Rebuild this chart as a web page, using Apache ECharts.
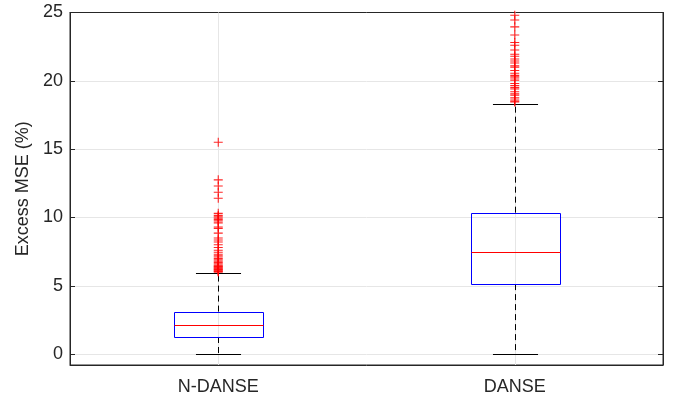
<!DOCTYPE html>
<html>
<head>
<meta charset="utf-8">
<script src="https://cdn.jsdelivr.net/npm/echarts@6/dist/echarts.min.js"></script>
<style>
  html, body { margin: 0; padding: 0; background: #fff; }
  #chart { width: 681px; height: 396px; }
</style>
</head>
<body>
<div id="chart"></div>
<script>
// categories on the x axis
const categories = ['N-DANSE', 'DANSE'];
// [lower whisker, Q1, median, Q3, upper whisker]
const boxStats = [
  [0, 1.25, 2.12, 3.11, 5.95],
  [0, 5.12, 7.46, 10.35, 18.3]
];
// outliers
const outliersNDanse = [15.5, 12.75, 12.3, 11.85, 11.4, 10.3, 10.15, 10.05, 9.95, 9.85, 9.75,
  9.6, 9.3, 9.2, 8.85, 8.5, 8.35, 8.2, 8.0, 7.8, 7.6, 7.45, 7.3, 7.2, 7.1, 7.0, 6.9, 6.8,
  6.7, 6.6, 6.5, 6.45, 6.4, 6.35, 6.3, 6.25, 6.2, 6.15, 6.1, 6.05, 6.0];
const outliersDanse = [24.8, 24.45, 23.95, 23.35, 22.8, 22.6, 22.25, 21.95, 21.8, 21.6, 21.45,
  21.3, 21.1, 21.0, 20.75, 20.55, 20.4, 20.3, 20.2, 20.05, 19.8, 19.65, 19.5, 19.4, 19.2,
  19.05, 18.95, 18.75, 18.6, 18.5, 18.45];
const yMin = -0.8;
const yMax = 25;

const axisColor = '#262626';
const gridColor = '#e6e6e6';
const font = '"Liberation Sans", Arial, sans-serif';

const chart = echarts.init(document.getElementById('chart'));

const boxData = boxStats.map((s, i) => [i].concat(s));
const outlierData = [];
outliersNDanse.forEach(v => outlierData.push([0, v]));
outliersDanse.forEach(v => outlierData.push([1, v]));

const px = v => Math.round(v) + 0.5;

function renderBox(params, api) {
  const idx = api.value(0);
  const lo = api.coord([idx, api.value(1)]);
  const q1 = api.coord([idx, api.value(2)]);
  const med = api.coord([idx, api.value(3)]);
  const q3 = api.coord([idx, api.value(4)]);
  const hi = api.coord([idx, api.value(5)]);
  const band = api.size([1, 0])[0];
  const bw = band * 0.15;   // half box width
  const cw = band * 0.076;  // half cap width
  const x = px(lo[0]);
  const cs = params.coordSys;
  const dashed = { stroke: '#000', lineWidth: 1, lineDash: [6, 4] };
  const bx = px(x - bw);
  const bwPx = Math.round(2 * bw);
  return {
    type: 'group',
    children: [
      // vertical grid line
      { type: 'line', silent: true,
        shape: { x1: x, y1: cs.y, x2: x, y2: cs.y + cs.height },
        style: { stroke: gridColor, lineWidth: 1 } },
      // whiskers
      { type: 'line', shape: { x1: x, y1: q3[1], x2: x, y2: hi[1] }, style: dashed },
      { type: 'line', shape: { x1: x, y1: q1[1], x2: x, y2: lo[1] }, style: dashed },
      // caps
      { type: 'line', shape: { x1: x - cw, y1: px(hi[1]), x2: x + cw, y2: px(hi[1]) },
        style: { stroke: '#000', lineWidth: 1 } },
      { type: 'line', shape: { x1: x - cw, y1: px(lo[1]), x2: x + cw, y2: px(lo[1]) },
        style: { stroke: '#000', lineWidth: 1 } },
      // box
      { type: 'rect',
        shape: { x: bx, y: px(q3[1]), width: bwPx, height: Math.round(q1[1] - q3[1]) },
        style: { fill: 'none', stroke: '#0000ff', lineWidth: 1 } },
      // median
      { type: 'line', shape: { x1: bx, y1: px(med[1]), x2: bx + bwPx, y2: px(med[1]) },
        style: { stroke: '#ff0000', lineWidth: 1 } }
    ]
  };
}

const option = {
  animation: false,
  backgroundColor: '#fff',
  grid: { left: 70, right: 18, top: 12.5, bottom: 31, show: true, borderColor: axisColor, borderWidth: 1 },
  xAxis: [
    {
      type: 'category',
      data: categories,
      position: 'bottom',
      axisLine: { show: true, onZero: false, lineStyle: { color: axisColor, width: 1 } },
      axisTick: { show: true, inside: true, alignWithLabel: true, length: 5, lineStyle: { color: axisColor } },
      axisLabel: { color: axisColor, fontSize: 18, fontFamily: font, margin: 13 },
      splitLine: { show: false }
    },
    {
      type: 'category',
      data: categories,
      position: 'top',
      axisLine: { show: true, onZero: false, lineStyle: { color: axisColor, width: 1 } },
      axisTick: { show: true, inside: true, alignWithLabel: true, length: 5, lineStyle: { color: axisColor } },
      axisLabel: { show: false },
      splitLine: { show: false }
    }
  ],
  yAxis: [
    {
      type: 'value',
      min: yMin,
      max: yMax,
      splitNumber: 5,
      name: 'Excess MSE (%)',
      nameLocation: 'middle',
      nameGap: 37,
      nameTextStyle: { color: axisColor, fontSize: 18, fontFamily: font },
      axisLine: { show: true, lineStyle: { color: axisColor, width: 1 } },
      axisTick: { show: true, inside: true, length: 5, lineStyle: { color: axisColor } },
      axisLabel: { color: axisColor, fontSize: 18, fontFamily: font, margin: 7, showMinLabel: false },
      splitLine: { show: true, lineStyle: { color: gridColor, width: 1 } }
    },
    {
      type: 'value',
      min: yMin,
      max: yMax,
      splitNumber: 5,
      position: 'right',
      axisLine: { show: true, lineStyle: { color: axisColor, width: 1 } },
      axisTick: { show: true, inside: true, length: 5, lineStyle: { color: axisColor } },
      axisLabel: { show: false },
      splitLine: { show: false }
    }
  ],
  series: [
    {
      type: 'custom',
      renderItem: renderBox,
      data: boxData,
      encode: { x: 0, y: [1, 2, 3, 4, 5] },
      z: 2
    },
    {
      type: 'scatter',
      data: outlierData,
      symbol: 'path://M4.4,0 H5.6 V4.4 H10 V5.6 H5.6 V10 H4.4 V5.6 H0 V4.4 H4.4 Z',
      symbolSize: 9,
      itemStyle: { color: '#ff0000', opacity: 0.85 },
      z: 3
    }
  ]
};

chart.setOption(option);
</script>
</body>
</html>
